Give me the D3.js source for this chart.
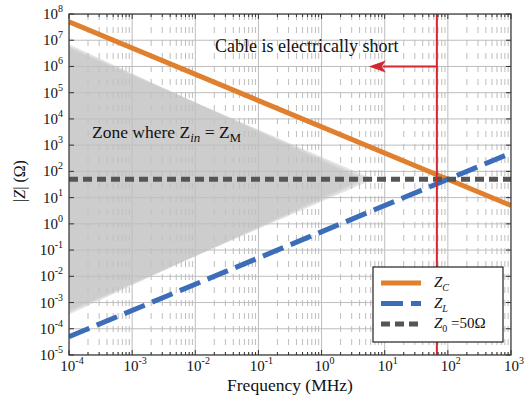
<!DOCTYPE html>
<html><head><meta charset="utf-8">
<script src="https://cdn.jsdelivr.net/npm/d3@7"></script>
</head><body style="margin:0"><svg id="c" width="532" height="401" font-family="Liberation Serif" style="display:block"></svg>
<script>
// ---- data ----
const freq = [1e-4, 1e3];             // MHz
const zC = [5e7, 5];                   // capacitive impedance
const zL = [5e-5, 5e2];                // inductive impedance
const z0 = [50, 50];                   // characteristic impedance
const zoneFreq = [1e-4, 6.7, 1e-4];
const zoneZ = [5e6, 50, 5e-4];
const cableFreq = 67;                  // MHz (red line)
const arrowFreq = [67, 5.6];
const arrowZ = 1e6;
const xTickExp = [-4,-3,-2,-1,0,1,2,3];
const yTickExp = [-5,-4,-3,-2,-1,0,1,2,3,4,5,6,7,8];
const seriesNames = ["C","L","0"];

const FONT = '"Liberation Serif"';
const svg = d3.select("#c");
const m = {l:69, r:511, t:14, b:355};
const x = d3.scaleLog().domain([1e-4,1e3]).range([m.l,m.r]);
const y = d3.scaleLog().domain([1e-5,1e8]).range([m.b,m.t]);
const txt = (sel)=>sel.append("text").style("font-family",FONT).attr("fill","#111");

const defs = svg.append("defs");
defs.append("clipPath").attr("id","clip").append("rect").attr("x",m.l).attr("y",m.t).attr("width",m.r-m.l).attr("height",m.b-m.t);

const g = svg.append("g").attr("clip-path","url(#clip)");

// grid
const minorX = [];
for (let e=-4;e<3;e++) for (let k=2;k<10;k++) minorX.push(k*Math.pow(10,e));
g.selectAll(".mx").data(minorX).enter().append("line")
  .attr("x1",d=>x(d)).attr("x2",d=>x(d)).attr("y1",m.t).attr("y2",m.b)
  .attr("stroke","#bdbdbd").attr("stroke-width",1).attr("stroke-dasharray","6,7");
g.selectAll(".Mx").data(xTickExp).enter().append("line")
  .attr("x1",d=>x(Math.pow(10,d))).attr("x2",d=>x(Math.pow(10,d))).attr("y1",m.t).attr("y2",m.b)
  .attr("stroke","#bdbdbd").attr("stroke-width",1);
g.selectAll(".My").data(yTickExp).enter().append("line")
  .attr("y1",d=>y(Math.pow(10,d))).attr("y2",d=>y(Math.pow(10,d))).attr("x1",m.l).attr("x2",m.r)
  .attr("stroke","#bdbdbd").attr("stroke-width",1);

// zone: soft edge approximated by stacked translucent polygons
const zonePts = zoneFreq.map((f,i)=>[f,zoneZ[i]]);
[4,2,0].forEach(inset=>{
  g.append("path").datum(zonePts)
    .attr("d", d3.line().x((d,i)=>x(d[0]) - (i===1?inset*3:0)).y((d,i)=>y(d[1]) + (i===0?-inset: i===2? inset:0)).curve(d3.curveLinearClosed))
    .attr("fill","#c2c2c2").attr("opacity",0.42);
});

const line = d3.line().x((d,i)=>x(freq[i])).y(d=>y(d));
g.append("path").datum(zC).attr("d",line).attr("fill","none").attr("stroke","#e07f2e").attr("stroke-width",5);
g.append("path").datum(zL).attr("d",line).attr("fill","none").attr("stroke","#3b6db8").attr("stroke-width",5).attr("stroke-dasharray","22,8");
g.append("path").datum(z0).attr("d",line).attr("fill","none").attr("stroke","#555555").attr("stroke-width",5).attr("stroke-dasharray","9,5");

// red line and arrow
g.append("line").attr("x1",x(cableFreq)).attr("x2",x(cableFreq)).attr("y1",m.t).attr("y2",m.b)
  .attr("stroke","#d6262f").attr("stroke-width",2);
const ay = y(arrowZ);
const ax0 = x(arrowFreq[0]), ax1 = x(arrowFreq[1]);
g.append("line").attr("x1",ax0).attr("x2",ax1+14).attr("y1",ay).attr("y2",ay).attr("stroke","#d6262f").attr("stroke-width",2);
g.append("path").attr("d",`M${ax1},${ay} L${ax1+17},${ay-6} L${ax1+13},${ay} L${ax1+17},${ay+6} Z`).attr("fill","#d6262f");

// frame
svg.append("rect").attr("x",m.l).attr("y",m.t).attr("width",m.r-m.l).attr("height",m.b-m.t)
  .attr("fill","none").attr("stroke","#333").attr("stroke-width",1.2);
// ticks
const tk = svg.append("g").attr("stroke","#333").attr("stroke-width",1);
xTickExp.forEach(e=>{const X=x(Math.pow(10,e));
  tk.append("line").attr("x1",X).attr("x2",X).attr("y1",m.b).attr("y2",m.b-5);
  tk.append("line").attr("x1",X).attr("x2",X).attr("y1",m.t).attr("y2",m.t+5);});
minorX.forEach(v=>{const X=x(v);
  tk.append("line").attr("x1",X).attr("x2",X).attr("y1",m.b).attr("y2",m.b-3);
  tk.append("line").attr("x1",X).attr("x2",X).attr("y1",m.t).attr("y2",m.t+3);});
yTickExp.forEach(e=>{const Y=y(Math.pow(10,e));
  tk.append("line").attr("x1",m.l).attr("x2",m.l+5).attr("y1",Y).attr("y2",Y);
  tk.append("line").attr("x1",m.r).attr("x2",m.r-5).attr("y1",Y).attr("y2",Y);});

// tick labels
xTickExp.forEach(e=>{
  const t = txt(svg).attr("x",x(Math.pow(10,e))+3).attr("y",m.b+16).attr("text-anchor","middle").attr("font-size",15);
  t.append("tspan").text("10");
  t.append("tspan").attr("dy",-7).attr("font-size",10).text(e);
});
yTickExp.forEach(e=>{
  const t = txt(svg).attr("x",63).attr("y",y(Math.pow(10,e))+5).attr("text-anchor","end").attr("font-size",15);
  t.append("tspan").text("10");
  t.append("tspan").attr("dy",-7).attr("font-size",10).text(e);
});

// axis labels
txt(svg).attr("x",(m.l+m.r)/2).attr("y",391).attr("text-anchor","middle").attr("font-size",17.5).text("Frequency (MHz)");
const yl = txt(svg).attr("transform","translate(25,181) rotate(-90)").attr("text-anchor","middle").attr("font-size",16);
yl.append("tspan").text("|");
yl.append("tspan").attr("font-style","italic").text("Z");
yl.append("tspan").text("|  (Ω)");

// annotations
txt(svg).attr("x",215).attr("y",52).attr("font-size",18).text("Cable is electrically short");
const zt = txt(svg).attr("x",92).attr("y",138).attr("font-size",17.5);
zt.append("tspan").text("Zone where Z");
zt.append("tspan").attr("font-style","italic").attr("font-size",13).attr("dy",4).text("in");
zt.append("tspan").attr("dy",-4).text(" = Z");
zt.append("tspan").attr("font-size",13).attr("dy",4).text("M");

// legend
const L = {x:373,y:267,w:130,h:75};
svg.append("rect").attr("x",L.x).attr("y",L.y).attr("width",L.w).attr("height",L.h).attr("fill","#fff").attr("stroke","#222").attr("stroke-width",1.2);
const legStyles = [
  {c:"#e07f2e", d:null},
  {c:"#3b6db8", d:"22,8"},
  {c:"#555555", d:"9,5"}
];
seriesNames.forEach((n,i)=>{
  const yy = 283 + i*20.5;
  svg.append("line").attr("x1",381).attr("x2",421).attr("y1",yy).attr("y2",yy)
    .attr("stroke",legStyles[i].c).attr("stroke-width",5).attr("stroke-dasharray",legStyles[i].d);
  const t = txt(svg).attr("x",434).attr("y",yy+4).attr("font-size",15);
  t.append("tspan").attr("font-style","italic").text("Z");
  const s = t.append("tspan").attr("font-size",10).attr("dy",4).text(n);
  if (n!=="0") s.attr("font-style","italic");
  if (n==="0") t.append("tspan").attr("dy",-4).text(" =50Ω");
});
</script></body></html>
